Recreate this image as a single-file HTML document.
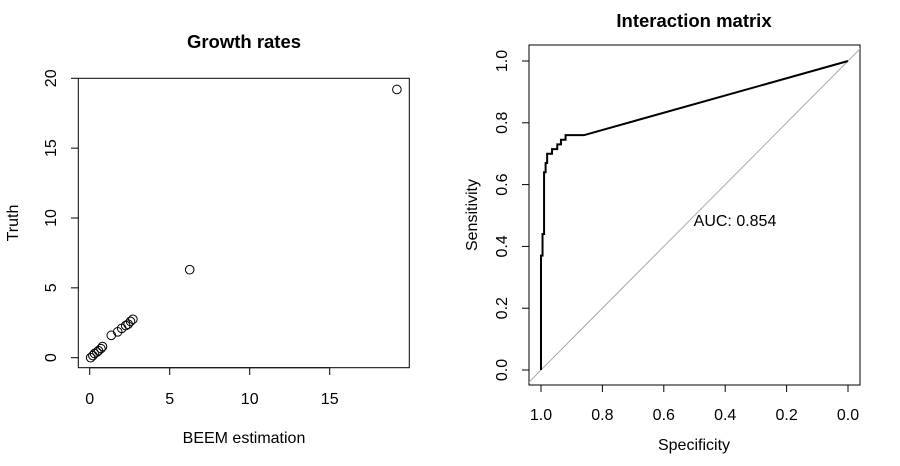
<!DOCTYPE html>
<html><head><meta charset="utf-8"><style>
html,body{margin:0;padding:0;background:#fff;}
svg{display:block;font-family:"Liberation Sans",sans-serif;}
</style></head><body>
<svg id="s" width="900" height="466" viewBox="0 0 900 466">
<g id="left"></g>
<g id="right"></g>
</svg>
<script>
const scatterX = [0.06,0.2,0.3,0.45,0.55,0.7,0.8,1.35,1.75,2.0,2.25,2.4,2.55,2.7,6.25,19.2];
const scatterY = [0.0,0.15,0.3,0.4,0.5,0.65,0.8,1.6,1.85,2.1,2.3,2.4,2.6,2.75,6.3,19.2];
const leftXTicks = [0,5,10,15];
const leftYTicks = [0,5,10,15,20];
const rocSpec = [1.0,1.0,0.995,0.995,0.99,0.99,0.985,0.985,0.98,0.98,0.964,0.964,0.947,0.947,0.935,0.935,0.92,0.92,0.86,0.0];
const rocSens = [0.0,0.37,0.37,0.44,0.44,0.64,0.64,0.67,0.67,0.70,0.70,0.715,0.715,0.73,0.73,0.745,0.745,0.76,0.76,1.0];
const rightTicks = [0.0,0.2,0.4,0.6,0.8,1.0];
const aucLabel = "AUC: 0.854";

const NS="http://www.w3.org/2000/svg";
function mk(parent,tag,attrs,text){const e=document.createElementNS(NS,tag);for(const k in attrs)e.setAttribute(k,attrs[k]);if(text!==undefined)e.textContent=text;parent.appendChild(e);return e;}
const FS=16, TS=18.5;

// Left panel
const L=document.getElementById('left');
const lx=v=>89.7+v*16.0, ly=v=>357.7-v*13.97;
let e;
e=mk(L,'rect',{x:78.3,y:78.3,width:331,height:289.4,fill:'none',stroke:'#000','stroke-width':1});

e=mk(L,'text',{x:244,y:48,'text-anchor':'middle','font-size':TS,'font-weight':'bold'},'Growth rates');

e=mk(L,'line',{x1:lx(0),x2:lx(15),y1:367.7,y2:367.7,stroke:'#000'});
leftXTicks.forEach(t=>{
 e=mk(L,'line',{x1:lx(t),x2:lx(t),y1:367.7,y2:375,stroke:'#000'});
 
 e=mk(L,'text',{x:lx(t),y:404,'text-anchor':'middle','font-size':FS},String(t));
 
});
leftYTicks.forEach(t=>{
 e=mk(L,'line',{x1:71,x2:78.3,y1:ly(t),y2:ly(t),stroke:'#000'});
 
 e=mk(L,'text',{x:0,y:0,'text-anchor':'middle','font-size':FS,transform:`translate(56,${ly(t)}) rotate(-90)`},String(t));
 
});
e=mk(L,'text',{x:244,y:443,'text-anchor':'middle','font-size':FS},'BEEM estimation');

e=mk(L,'text',{x:0,y:0,'text-anchor':'middle','font-size':FS,transform:'translate(18,223) rotate(-90)'},'Truth');

scatterX.forEach((v,i)=>{
 e=mk(L,'circle',{cx:lx(v),cy:ly(scatterY[i]),r:4.3,fill:'none',stroke:'#000','stroke-width':1});
 
});

// Right panel
const R=document.getElementById('right');
const rx=v=>848-v*307, ry=v=>370-v*309;
e=mk(R,'rect',{x:529,y:45,width:331,height:340,fill:'none',stroke:'#000','stroke-width':1});

e=mk(R,'text',{x:694,y:27,'text-anchor':'middle','font-size':TS,'font-weight':'bold'},'Interaction matrix');

e=mk(R,'defs',{});
const cp=mk(e,'clipPath',{id:'rc'});mk(cp,'rect',{x:529,y:45,width:331,height:340});
e=mk(R,'line',{x1:rx(1.04),y1:ry(-0.04),x2:rx(-0.04),y2:ry(1.04),stroke:'#aaa','stroke-width':1,'clip-path':'url(#rc)'});

e=mk(R,'line',{x1:rx(1),x2:rx(0),y1:385,y2:385,stroke:'#000'});
e=mk(R,'line',{x1:529,x2:529,y1:ry(0),y2:ry(1),stroke:'#000'});
rightTicks.forEach(t=>{
 e=mk(R,'line',{x1:rx(t),x2:rx(t),y1:385,y2:392,stroke:'#000'});
 
 e=mk(R,'text',{x:rx(t),y:420,'text-anchor':'middle','font-size':FS},t.toFixed(1));
 
 e=mk(R,'line',{x1:522,x2:529,y1:ry(t),y2:ry(t),stroke:'#000'});
 
 e=mk(R,'text',{x:0,y:0,'text-anchor':'middle','font-size':FS,transform:`translate(507,${ry(t)}) rotate(-90)`},t.toFixed(1));
 
});
e=mk(R,'text',{x:694,y:450,'text-anchor':'middle','font-size':FS},'Specificity');

e=mk(R,'text',{x:0,y:0,'text-anchor':'middle','font-size':FS,transform:'translate(477,215) rotate(-90)'},'Sensitivity');

e=mk(R,'polyline',{points:rocSpec.map((s,i)=>rx(s)+','+ry(rocSens[i])).join(' '),fill:'none',stroke:'#000','stroke-width':2});

e=mk(R,'text',{x:735,y:226,'text-anchor':'middle','font-size':FS},aucLabel);

</script>
</body></html>
